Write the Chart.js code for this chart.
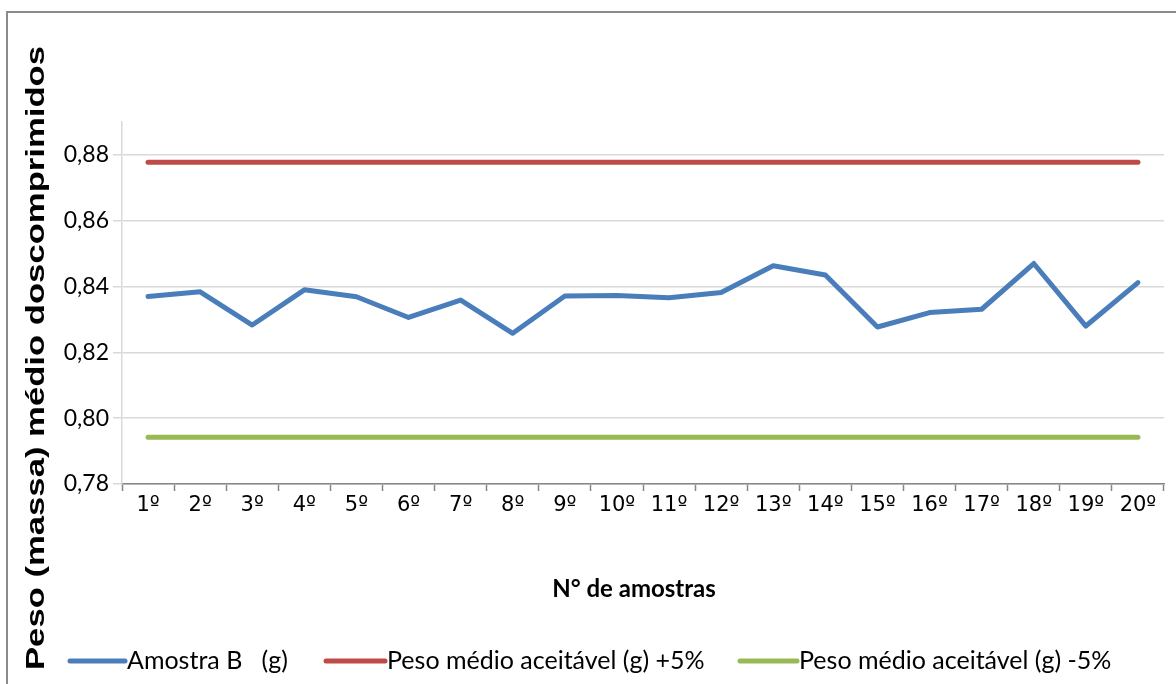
<!DOCTYPE html>
<html lang="pt">
<head>
<meta charset="utf-8">
<title>Peso médio dos comprimidos – Amostra B</title>
<script src="https://cdn.jsdelivr.net/npm/chart.js@4.4.1/dist/chart.umd.min.js"></script>
<style>
  html, body { margin: 0; padding: 0; background: #ffffff; }
  #wrap { position: relative; width: 1176px; height: 684px; }
  canvas { display: block; }
</style>
</head>
<body>
<div id="wrap"><canvas id="grafico" width="1176" height="684"></canvas></div>
<script>
// Amostras (eixo X)
const categorias = ['1º', '2º', '3º', '4º', '5º', '6º', '7º', '8º', '9º', '10º',
                    '11º', '12º', '13º', '14º', '15º', '16º', '17º', '18º', '19º', '20º'];

// Peso de cada comprimido da amostra B (g)
const amostraB = [0.8370, 0.8384, 0.8283, 0.8390, 0.8369, 0.8306, 0.8359, 0.8258, 0.8371, 0.8373,
                  0.8366, 0.8382, 0.8463, 0.8435, 0.8277, 0.8321, 0.8331, 0.8470, 0.8280, 0.8412];

// Limites do peso médio aceitável (±5%)
const limiteSuperior = [0.8778, 0.8778, 0.8778, 0.8778, 0.8778, 0.8778, 0.8778, 0.8778, 0.8778, 0.8778,
                        0.8778, 0.8778, 0.8778, 0.8778, 0.8778, 0.8778, 0.8778, 0.8778, 0.8778, 0.8778];
const limiteInferior = [0.7942, 0.7942, 0.7942, 0.7942, 0.7942, 0.7942, 0.7942, 0.7942, 0.7942, 0.7942,
                        0.7942, 0.7942, 0.7942, 0.7942, 0.7942, 0.7942, 0.7942, 0.7942, 0.7942, 0.7942];

// Marcas do eixo Y
const marcasY = [0.78, 0.80, 0.82, 0.84, 0.86, 0.88];
const eixoYMin = 0.78;
const eixoYMax = 0.89;

const rotulos = {
  series: ['Amostra B   (g)', 'Peso médio aceitável (g) +5%', 'Peso médio aceitável (g) -5%'],
  eixoX: 'N° de amostras',
  eixoY: 'Peso (massa) médio doscomprimidos'
};

const cores = ['#4a7ebb', '#be4b48', '#98b954'];

// Moldura, títulos dos eixos e legenda desenhados sobre o canvas
const decoracao = {
  id: 'decoracao',
  beforeDraw(chart) {
    const ctx = chart.ctx;
    ctx.save();
    ctx.strokeStyle = '#8a8a8a';
    ctx.lineWidth = 2;
    ctx.strokeRect(7, 12, 1300, 800);
    ctx.restore();
  },
  afterDraw(chart) {
    const ctx = chart.ctx;

    // Título do eixo X
    ctx.save();
    ctx.fillStyle = '#000000';
    ctx.font = 'bold 24px Lato';
    ctx.textAlign = 'center';
    ctx.textBaseline = 'middle';
    ctx.fillText(rotulos.eixoX, 634, 589);
    ctx.restore();

    // Título do eixo Y (vertical)
    ctx.save();
    ctx.fillStyle = '#000000';
    ctx.font = 'bold 26px "Liberation Sans"';
    ctx.translate(37, 358);
    ctx.rotate(-Math.PI / 2);
    const largura = ctx.measureText(rotulos.eixoY).width;
    ctx.scale(624 / largura, 1);
    ctx.textAlign = 'center';
    ctx.textBaseline = 'middle';
    ctx.fillText(rotulos.eixoY, 0, 0);
    ctx.restore();

    // Legenda
    const itens = [
      { x0: 70, x1: 125 },
      { x0: 326, x1: 385 },
      { x0: 740, x1: 797 }
    ];
    ctx.save();
    ctx.font = '25px Lato';
    ctx.textBaseline = 'middle';
    ctx.lineCap = 'round';
    chart.data.datasets.forEach((ds, i) => {
      const it = itens[i];
      ctx.strokeStyle = ds.borderColor;
      ctx.lineWidth = 5;
      ctx.beginPath();
      ctx.moveTo(it.x0, 661);
      ctx.lineTo(it.x1, 661);
      ctx.stroke();
      ctx.fillStyle = '#000000';
      ctx.fillText(ds.label, it.x1 + 2, 661);
    });
    ctx.restore();
  }
};

const conjuntos = [amostraB, limiteSuperior, limiteInferior].map((valores, i) => ({
  label: rotulos.series[i],
  data: valores,
  borderColor: cores[i],
  backgroundColor: cores[i],
  borderWidth: 5,
  borderCapStyle: 'round',
  borderJoinStyle: 'round',
  pointRadius: 0,
  pointHoverRadius: 0,
  tension: 0,
  fill: false
}));

new Chart(document.getElementById('grafico'), {
  type: 'line',
  data: { labels: categorias, datasets: conjuntos },
  options: {
    responsive: false,
    animation: false,
    events: [],
    layout: { padding: { top: 122, right: 12, left: 0, bottom: 0 } },
    plugins: {
      legend: { display: false },
      tooltip: { enabled: false },
      title: { display: false }
    },
    scales: {
      x: {
        type: 'category',
        offset: true,
        grid: {
          offset: true,
          drawOnChartArea: false,
          drawTicks: true,
          tickLength: 7,
          tickWidth: 1.5,
          tickColor: '#868686'
        },
        border: { display: true, color: '#868686', width: 1.5 },
        ticks: {
          color: '#000000',
          font: { family: '"DejaVu Sans"', size: 21 },
          padding: 2,
          maxRotation: 0,
          autoSkip: false
        },
        afterFit(scale) { scale.height = 200; }
      },
      y: {
        min: eixoYMin,
        max: eixoYMax,
        afterBuildTicks(scale) {
          scale.ticks = marcasY.map(v => ({ value: v }));
        },
        grid: {
          color: '#d9d9d9',
          lineWidth: 1.5,
          drawTicks: true,
          tickLength: 9,
          tickColor: '#d9d9d9'
        },
        border: { display: true, color: '#d9d9d9', width: 1.5 },
        ticks: {
          color: '#000000',
          font: { family: 'Lato', size: 23 },
          padding: 4,
          callback: v => Number(v).toFixed(2).replace('.', ',')
        },
        afterFit(scale) { scale.width = 122; }
      }
    }
  },
  plugins: [decoracao]
});
</script>
</body>
</html>
